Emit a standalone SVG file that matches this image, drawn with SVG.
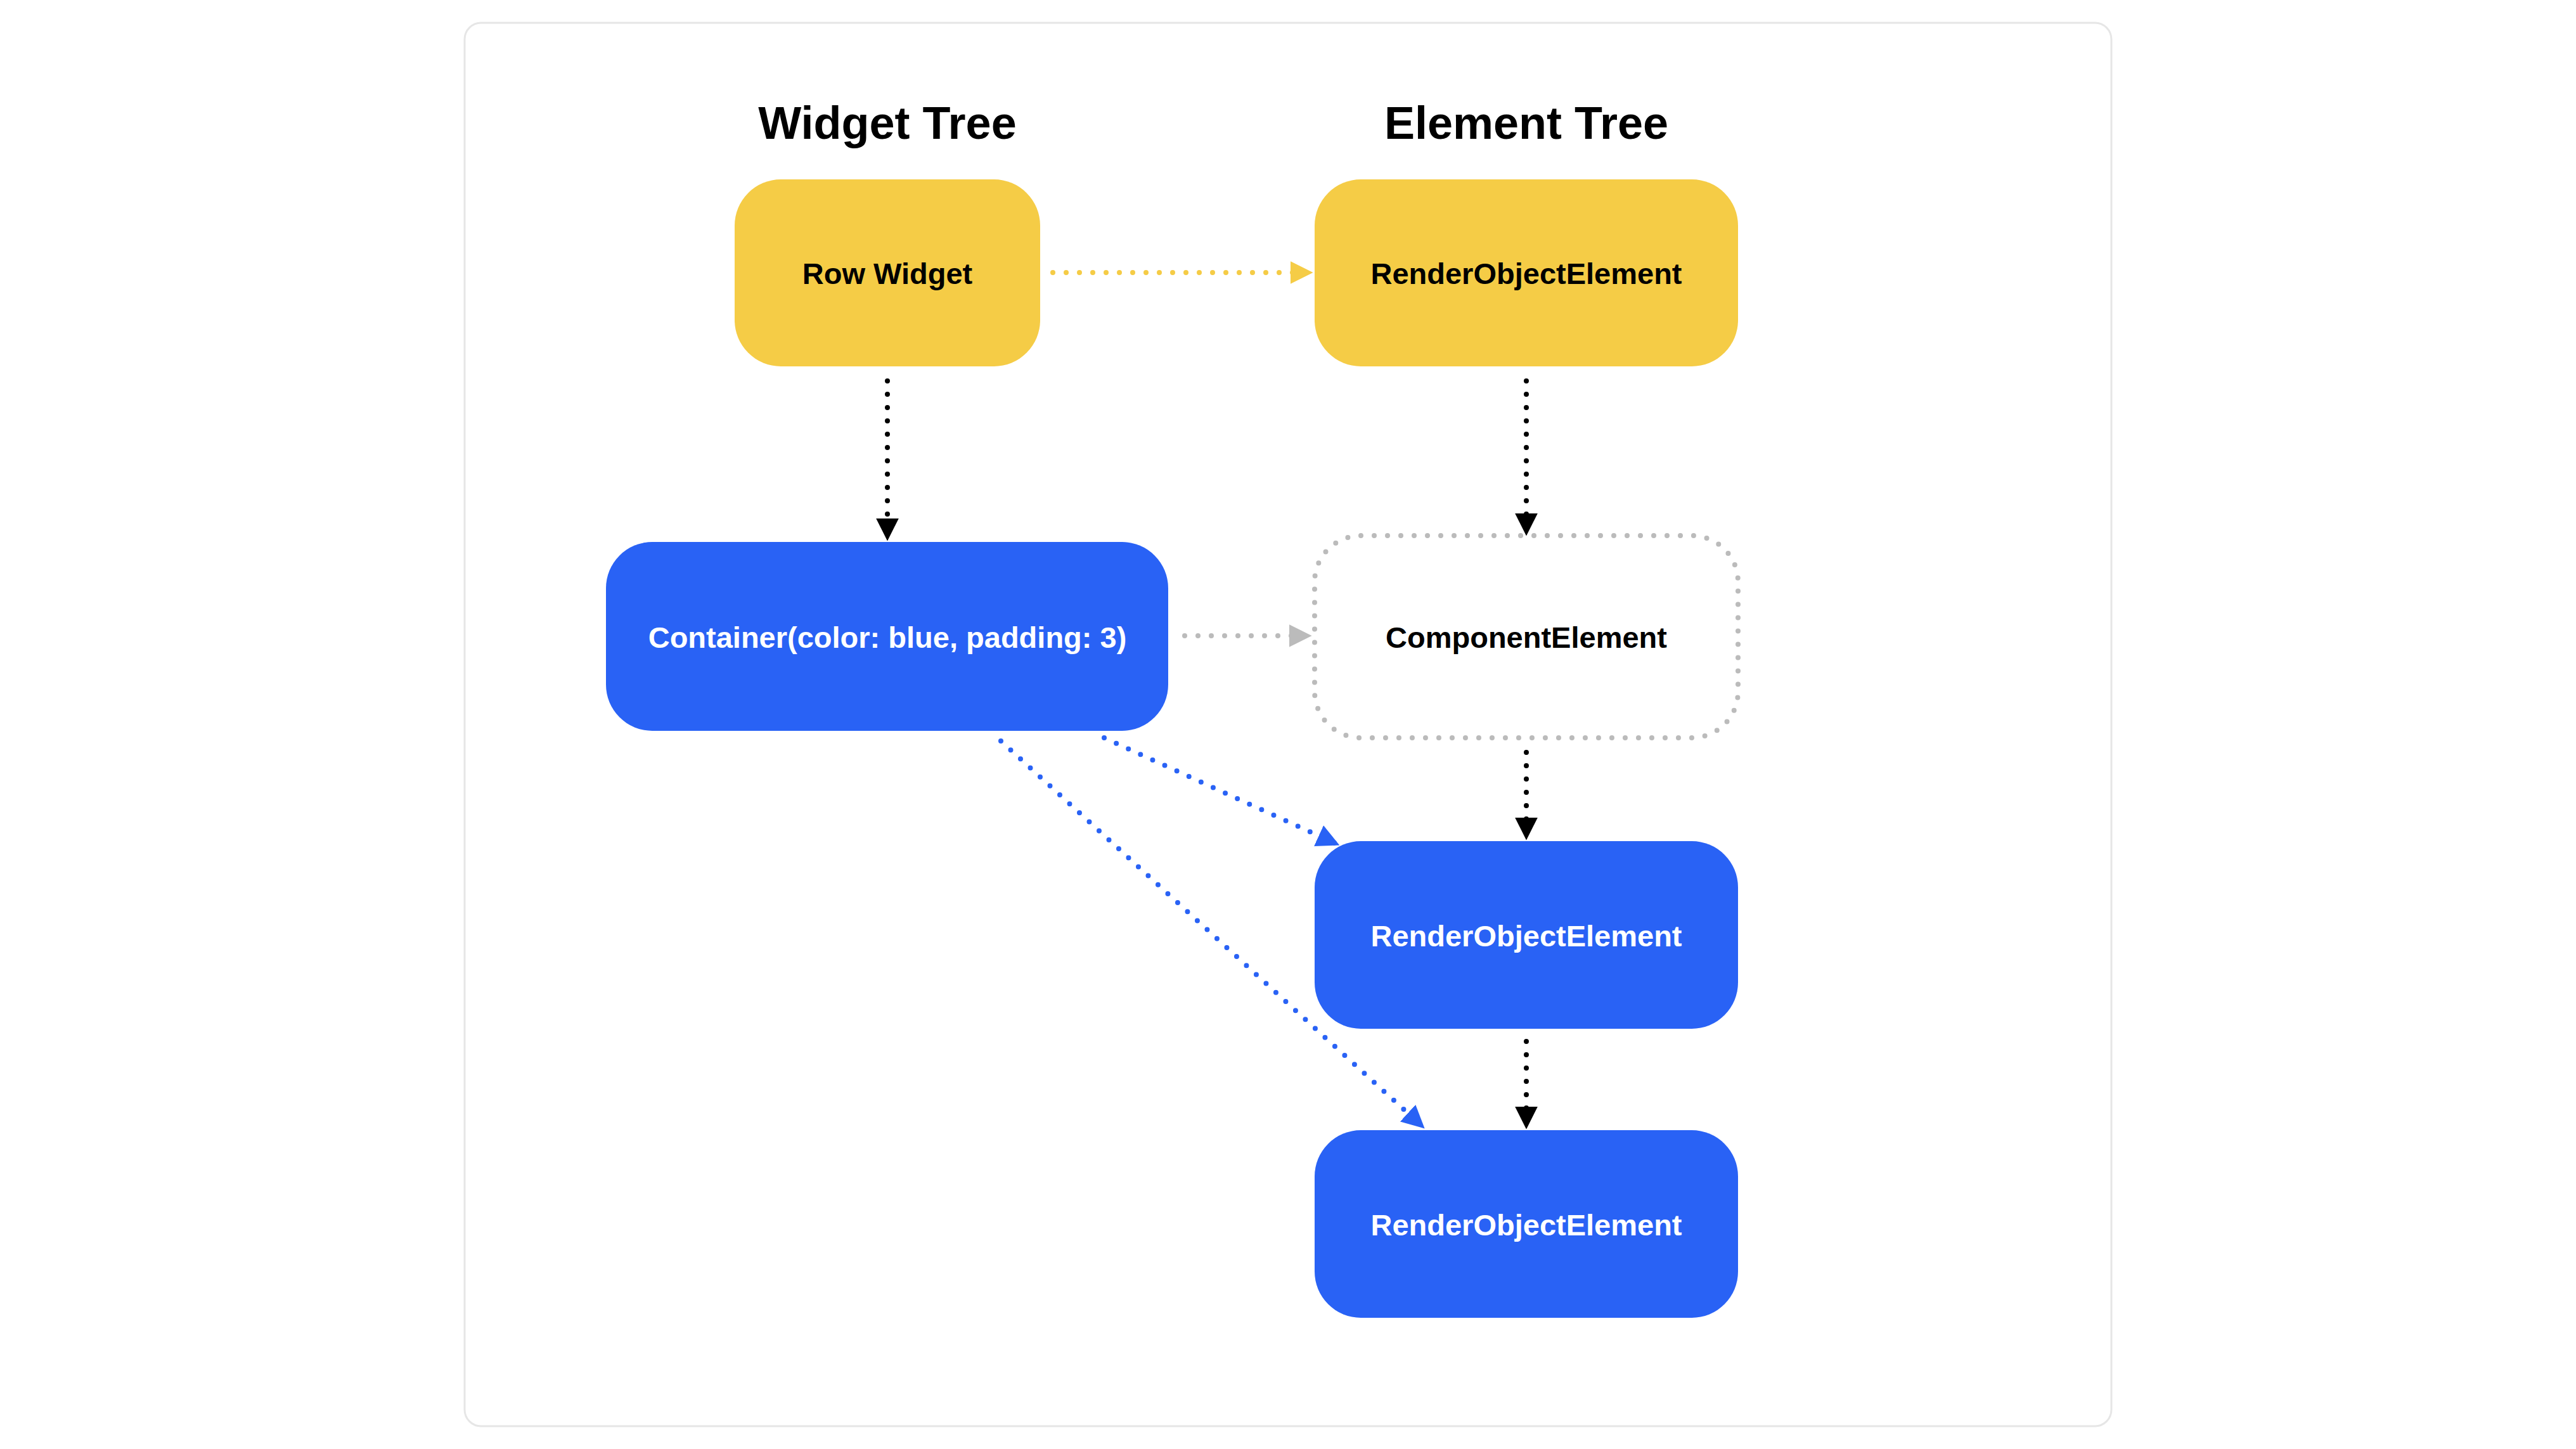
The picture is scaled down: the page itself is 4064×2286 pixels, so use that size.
<svg xmlns="http://www.w3.org/2000/svg" width="4064" height="2286" viewBox="0 0 4064 2286">
<defs>
<style>
.t{font-family:"Liberation Sans",Arial,sans-serif;font-weight:bold;text-anchor:middle;dominant-baseline:central}
.h{font-size:72px;fill:#000}
.l{font-size:47px}
.c{fill:none;stroke-width:8;stroke-linecap:round;stroke-dasharray:0 21}
</style>
<marker id="mk" viewBox="0 0 10 10" refX="9" refY="5" markerWidth="4.5" markerHeight="4.5" orient="auto" markerUnits="strokeWidth"><path d="M0,0L10,5L0,10z" fill="#000"/></marker>
<marker id="my" viewBox="0 0 10 10" refX="9" refY="5" markerWidth="4.5" markerHeight="4.5" orient="auto" markerUnits="strokeWidth"><path d="M0,0L10,5L0,10z" fill="#F5CC46"/></marker>
<marker id="mg" viewBox="0 0 10 10" refX="9" refY="5" markerWidth="4.5" markerHeight="4.5" orient="auto" markerUnits="strokeWidth"><path d="M0,0L10,5L0,10z" fill="#bbbbbb"/></marker>
<marker id="mb" viewBox="0 0 10 10" refX="9" refY="5" markerWidth="4.5" markerHeight="4.5" orient="auto" markerUnits="strokeWidth"><path d="M0,0L10,5L0,10z" fill="#2962F5"/></marker>
</defs>
<rect width="4064" height="2286" fill="#fff"/>
<rect x="733" y="36" width="2598" height="2214" rx="26" fill="#fff" stroke="#e6e6e6" stroke-width="3"/>
<text class="t h" x="1400" y="194">Widget Tree</text>
<text class="t h" x="2408" y="194">Element Tree</text>
<g id="connectors">
<path class="c" stroke="#000" d="M1400,601V850" marker-end="url(#mk)"/>
<path class="c" stroke="#F5CC46" d="M1661,430H2068" marker-end="url(#my)"/>
<path class="c" stroke="#000" d="M2408,601V842" marker-end="url(#mk)"/>
<path class="c" stroke="#bbbbbb" d="M1869,1003H2066" marker-end="url(#mg)"/>
<path class="c" stroke="#000" d="M2408,1187V1322" marker-end="url(#mk)"/>
<path class="c" stroke="#000" d="M2408,1643V1778" marker-end="url(#mk)"/>
<path class="c" stroke="#2962F5" d="M1742,1164L2110,1332" marker-end="url(#mb)"/>
<path class="c" stroke="#2962F5" d="M1579,1169L2245,1778" marker-end="url(#mb)"/>
</g>
<g id="row"><rect x="1159" y="283" width="482" height="295" rx="73" fill="#F5CC46"/><text class="t l" x="1400" y="431">Row Widget</text></g>
<g id="roe1"><rect x="2074" y="283" width="668" height="295" rx="73" fill="#F5CC46"/><text class="t l" x="2408" y="431">RenderObjectElement</text></g>
<g id="container"><rect x="956" y="855" width="887" height="298" rx="73" fill="#2962F5"/><text class="t l" x="1400" y="1005" fill="#fff">Container(color: blue, padding: 3)</text></g>
<g id="component"><rect x="2074" y="845" width="668" height="319" rx="73" fill="#fff" stroke="#bbbbbb" stroke-width="8" stroke-linecap="round" stroke-dasharray="0 21"/><text class="t l" x="2408" y="1005">ComponentElement</text></g>
<g id="roe2"><rect x="2074" y="1327" width="668" height="296" rx="73" fill="#2962F5"/><text class="t l" x="2408" y="1476" fill="#fff">RenderObjectElement</text></g>
<g id="roe3"><rect x="2074" y="1783" width="668" height="296" rx="73" fill="#2962F5"/><text class="t l" x="2408" y="1932" fill="#fff">RenderObjectElement</text></g>
</svg>
